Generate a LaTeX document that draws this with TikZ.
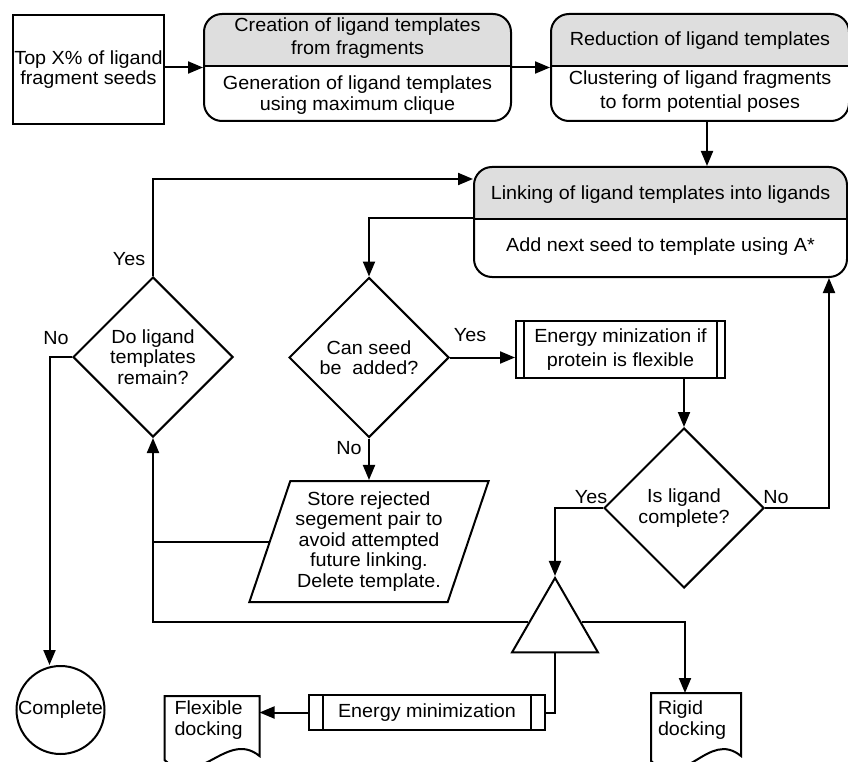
\documentclass[tikz,border=0pt]{standalone}
\usepackage{fontspec}
\setmainfont{Liberation Sans}[FakeStretch=1.04]
\usepackage{tikz}
\usetikzlibrary{calc,arrows.meta,positioning,shapes.geometric}
\definecolor{headgrey}{gray}{0.87}

\begin{document}
\begin{tikzpicture}[x=1pt,y=-1pt,line width=2pt]

\tikzset{basenode/.style={font=\fontsize{19}{20.5}\selectfont,align=center,inner sep=0pt},
plainbox/.style={basenode,draw,rectangle},
stagebox/.style={basenode,draw,rectangle,rounded corners=18pt,
  path picture={\fill[headgrey,sharp corners] (path picture bounding box.north west) rectangle ($(path picture bounding box.north east)+(0pt,-52pt)$);
    \draw[sharp corners] ($(path picture bounding box.north west)+(0pt,-52pt)$) -- ($(path picture bounding box.north east)+(0pt,-52pt)$);}},
procbox/.style={basenode,draw,rectangle,
  path picture={\draw ($(path picture bounding box.north west)+(#1,0pt)$) -- ($(path picture bounding box.south west)+(#1,0pt)$);
    \draw ($(path picture bounding box.north east)+(-#1,0pt)$) -- ($(path picture bounding box.south east)+(-#1,0pt)$);}},
decision/.style={basenode,draw,diamond,minimum width=160pt,minimum height=160pt},
docbox/.style={basenode,align=left,rectangle},
arr/.style={-{Triangle[length=15pt,width=12pt]}}}

\useasboundingbox (0,0) rectangle (848,762);

% Top row
\node (seeds) [plainbox,minimum width=151pt,minimum height=109pt] at (88.5,69.5) {Top X\% of ligand\\fragment seeds};
\node (create) [stagebox,minimum width=307pt,minimum height=107pt] at (357.5,67.5) {};
\node (reduce) [stagebox,minimum width=298pt,minimum height=107pt,right=38pt of create] {};
\node (link) [stagebox,minimum width=373pt,minimum height=110pt] at (660.5,222) {};

% Box texts
\node (createhead) [basenode] at ($(create.north)+(0,25)$) {Creation of ligand templates\\[3pt]from fragments};
\node (createbody) [basenode] at ($(create.south)+(0,-27)$) {Generation of ligand templates\\using maximum clique};
\node (reducehead) [basenode] at ($(reduce.north)+(0,28)$) {Reduction of ligand templates};
\node (reducebody) [basenode] at ($(reduce.south)+(0,-30)$) {Clustering of ligand fragments\\[3.5pt]to form potential poses};
\node (linkhead) [basenode] at ($(link.north)+(0,29)$) {Linking of ligand templates into ligands};
\node (linkbody) [basenode] at ($(link.south)+(0,-31)$) {Add next seed to template using A*};
\coordinate (linkdiv) at ($(link.north west)+(0,52)$);

% Decisions
\node (remain) [decision] at (153,357) {Do ligand\\templates\\remain?};
\node (canseed) [decision] at (369,357.5) {Can seed\\be~~added?};
\node (iscomp) [decision] at (684,508) {Is ligand\\complete?};

% Process nodes
\node (flexmin) [procbox=8pt,minimum width=209pt,minimum height=57pt] at (620.5,349.5) {Energy minization if\\[4pt]protein is flexible};
\node (store) [basenode,draw,trapezium,trapezium left angle=69,trapezium right angle=111,trapezium stretches=true,minimum width=240pt,minimum height=121pt] at (369,541.5) {Store rejected\\segement pair to\\avoid attempted\\future linking.\\Delete template.};
\node (tri) [draw,regular polygon,regular polygon sides=3,minimum size=99.3pt,inner sep=0pt] at (555,627.6) {};
\node (enmin) [procbox=14pt,minimum width=236pt,minimum height=35pt] at (427,712.5) {Energy minimization};

% End nodes
\node (done) [basenode,draw,circle,minimum size=88pt] at (60.5,710) {Complete};
\node (flexdock) [docbox,minimum height=46pt,inner xsep=9pt,text width=75pt] at (212,720) {Flexible\\docking};
\node (rigid) [docbox,minimum height=52pt,inner xsep=6pt,text width=76pt] at (696,720) {Rigid\\docking};
\foreach \doc/\rdrop/\ldrop in {flexdock/12/16, rigid/9/14}
  \draw (\doc.north west) -- (\doc.north east) -- ($(\doc.south east)+(0,\rdrop)$)
    .. controls ($(\doc.south east)+(-33,\rdrop-27)$) and ($(\doc.south west)+(34,\ldrop+31)$) .. ($(\doc.south west)+(0,\ldrop)$) -- cycle;

% Edges
\coordinate (reducedown) at ($(reduce.south)+(7,0)$);
\draw[arr] (seeds.east |- create.west) -- (create.west);
\draw[arr] (create.east) -- (reduce.west);
\draw[arr] (reducedown) -- (reducedown |- link.north);
\draw[arr] (remain.north) |- ($(link.north west)+(0,13)$);
\draw[arr] (linkdiv) -| (canseed.north);
\draw[arr] (canseed.east) -- (canseed.east -| flexmin.west);
\draw[arr] (iscomp.north |- flexmin.south) -- (iscomp.north);
\draw[arr] (iscomp.east) -| ($(link.south east)+(-19,0)$);
\draw[arr] (iscomp.west) -| (tri.corner 1);
\draw[arr] (canseed.south) -- (canseed.south |- store.north);
\draw (store.west) -- (store.west -| remain.south);
\draw[arr] (tri.168) -| (remain.south);
\draw[arr] (tri.12) -| ($(rigid.north)+(-11,0)$);
\draw (tri.side 2) |- (enmin.east);
\draw[arr] (enmin.west) -- (enmin.west -| flexdock.east);
\draw[arr] (remain.west) -| ($(done.north)+(-11,0)$);

% Yes / No labels
\node (yesremain) [basenode] at ($(remain.north)+(-24,-17)$) {Yes};
\node (noremain) [basenode] at ($(remain.west)+(-16,-19)$) {No};
\node (yesseed) [basenode] at ($(canseed.east)+(20,-22)$) {Yes};
\node (noseed) [basenode] at ($(canseed.south)+(-20,10)$) {No};
\node (yescomp) [basenode] at ($(iscomp.west)+(-12,-11)$) {Yes};
\node (nocomp) [basenode] at ($(iscomp.east)+(11,-11)$) {No};

\end{tikzpicture}
\end{document}
